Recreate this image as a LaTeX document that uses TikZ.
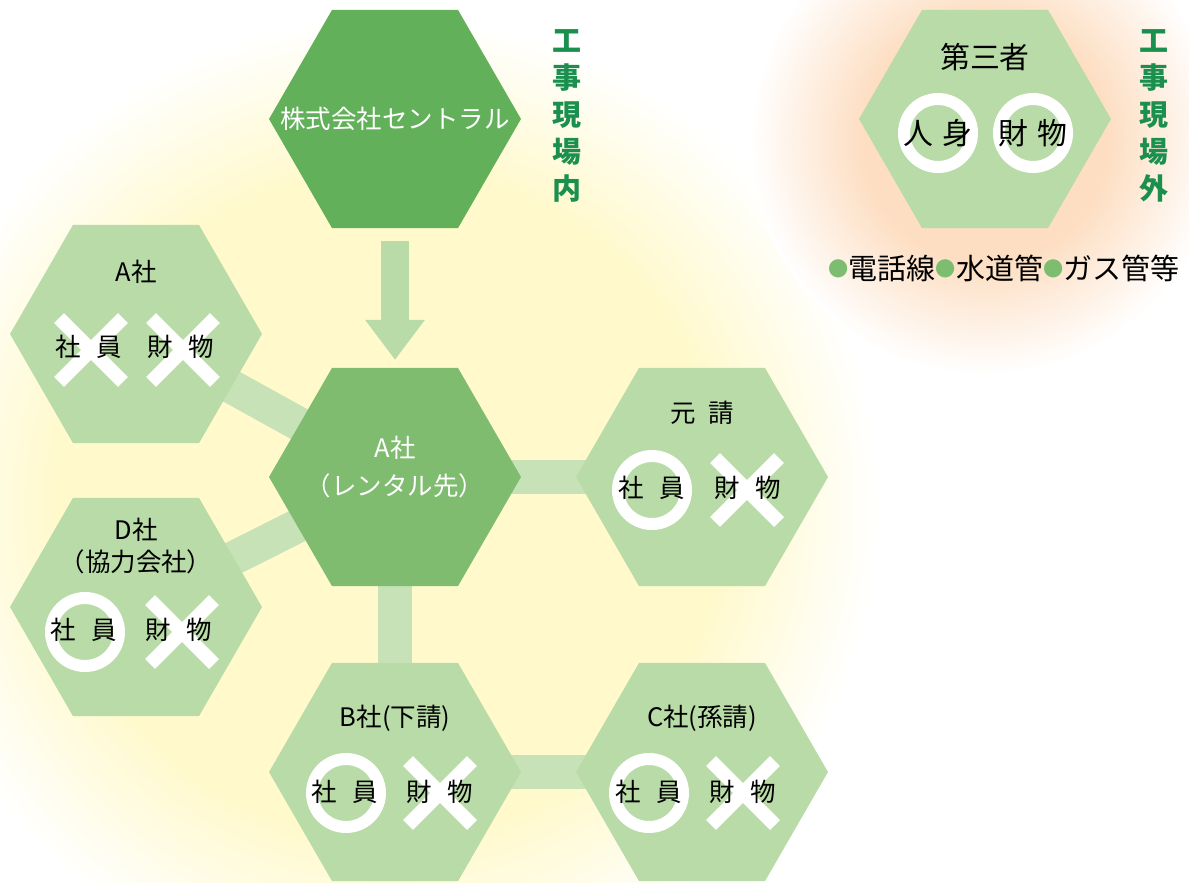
\documentclass[tikz,border=0pt]{standalone}
\usepackage{fontspec}
\setmainfont{Noto Sans CJK JP}
\usetikzlibrary{shapes.geometric,shapes.misc,arrows.meta}

\definecolor{topgreen}{HTML}{62B15A}
\definecolor{rentgreen}{HTML}{7FBC6F}
\definecolor{hexgreen}{HTML}{B8DBA7}
\definecolor{bandgreen}{HTML}{C8E2B8}
\definecolor{textgreen}{HTML}{1A8F4E}
\definecolor{dotgreen}{HTML}{7DBD6F}
\definecolor{glowyellow}{HTML}{FFF9CC}
\definecolor{gloworange}{HTML}{FDDEC2}

\pgfdeclarelayer{glow}
\pgfdeclarelayer{background}
\pgfsetlayers{glow,background,main}

\pgfdeclareradialshading{yellowglow}{\pgfpoint{0bp}{0bp}}{color(0bp)=(glowyellow); color(17bp)=(glowyellow); color(25bp)=(white); color(50bp)=(white)}
\pgfdeclareradialshading{orangeglow}{\pgfpoint{0bp}{0bp}}{color(0bp)=(gloworange); color(13bp)=(gloworange); color(25bp)=(white); color(50bp)=(white)}

\begin{document}
\begin{tikzpicture}[x=0.02cm,y=-0.02cm,
  hexa/.style={regular polygon,regular polygon sides=6,minimum size=5.04cm,inner sep=0pt,outer sep=0pt,fill=hexgreen},
  band/.style={draw=bandgreen,line width=0.68cm},
  bigarrow/.style={draw=hexgreen,line width=0.56cm,-{Triangle[length=0.8cm,width=1.14cm]}},
  ring/.style={circle,draw=white,line width=0.24cm,minimum size=1.36cm,inner sep=0pt},
  nogood/.style={cross out,draw=white,line width=0.28cm,minimum size=1.28cm,inner sep=0pt,outer sep=0pt},
  lbl/.style={font=\fontsize{14.5}{17}\selectfont,inner sep=0pt},
  biglbl/.style={font=\fontsize{17}{20}\selectfont,inner sep=0pt},
  wlbl/.style={font=\fontsize{14.5}{22}\selectfont,text=white,align=center,inner sep=0pt},
  vtext/.style={font=\bfseries\fontsize{16.5}{21}\selectfont,text=textgreen,align=center,inner sep=0pt}]
\useasboundingbox (0,0) rectangle (1189,882);

% glows
\begin{pgfonlayer}{glow}
\begin{scope}
\clip (0,0) rectangle (1189,882);
\shade[shading=yellowglow] (390,505) circle (490);
\shade[shading=orangeglow] (985,140) circle (235);
\end{scope}
\end{pgfonlayer}

% hexagons
\node[hexa,fill=topgreen] (hTop) at (395,119) {};
\node[hexa,fill=rentgreen] (hRent) at (395,477) {};
\node[hexa] (hA) at (136,334) {};
\node[hexa] (hD) at (136,607) {};
\node[hexa] (hMoto) at (702,477) {};
\node[hexa] (hB) at (395,772) {};
\node[hexa] (hC) at (702,772) {};
\node[hexa] (hThird) at (985,119) {};

% bands
\begin{pgfonlayer}{background}
\draw[band] (hA.center) -- (hRent.center);
\draw[band] (hD.center) -- (hRent.center);
\draw[band] (hRent.center) -- (hMoto.center);
\draw[band] (hRent.center) -- (hB.center);
\draw[band] (hB.center) -- (hC.center);
\end{pgfonlayer}
\draw[bigarrow,shorten <=0.26cm,shorten >=0.16cm] (hTop) -- (hRent);

% titles
\node[wlbl] (tTop) at (395,119) {株式会社セントラル};
\node[wlbl] (tRent) at (395,467) {A社\\（レンタル先）};
\node[lbl] (tA) at (136,272) {A社};
\node[lbl,align=center,font=\fontsize{14.5}{18}\selectfont] (tD) at (136,546) {D社\\（協力会社）};
\node[lbl] (tMoto) at (702,413) {元\hspace{0.5em}請};
\node[lbl] (tB) at (395,718) {B社(下請)};
\node[lbl] (tC) at (702,718) {C社(孫請)};
\node[biglbl] (tThird) at (985,57) {第三者};

% marks
\node[nogood] (mA1) at (91,350) {};
\node[nogood] (mA2) at (183,350) {};
\node[ring] (mD1) at (85,632) {};
\node[nogood] (mD2) at (182,632) {};
\node[ring] (mMoto1) at (652,490) {};
\node[nogood] (mMoto2) at (747,490) {};
\node[ring] (mB1) at (346,793) {};
\node[nogood] (mB2) at (440,793) {};
\node[ring] (mC1) at (649,793) {};
\node[nogood] (mC2) at (743,793) {};
\node[ring] (mT1) at (938,133) {};
\node[ring] (mT2) at (1033,133) {};

% texts on marks
\node[lbl] at (89,347) {社\hspace{0.6em}員};
\node[lbl] at (181,347) {財\hspace{0.6em}物};
\node[lbl] at (84,630) {社\hspace{0.6em}員};
\node[lbl] at (179,630) {財\hspace{0.6em}物};
\node[lbl] at (652,488) {社\hspace{0.6em}員};
\node[lbl] at (748,488) {財\hspace{0.6em}物};
\node[lbl] at (345,792) {社\hspace{0.6em}員};
\node[lbl] at (440,792) {財\hspace{0.6em}物};
\node[lbl] at (649,792) {社\hspace{0.6em}員};
\node[lbl] at (743,792) {財\hspace{0.6em}物};
\node[biglbl] at (938,133) {人\hspace{0.3em}身};
\node[biglbl] at (1033,133) {財\hspace{0.3em}物};

% side texts
\node[vtext] (vIn) at (567,116) {工\\事\\現\\場\\内};
\node[vtext] (vOut) at (1154,116) {工\\事\\現\\場\\外};
\node[lbl,font=\fontsize{16.5}{20}\selectfont] (legend) at (1004,268) {\raisebox{1.6pt}{\fontsize{11.5}{12}\selectfont\color{dotgreen}●}電話線\raisebox{1.6pt}{\fontsize{11.5}{12}\selectfont\color{dotgreen}●}水道管\raisebox{1.6pt}{\fontsize{11.5}{12}\selectfont\color{dotgreen}●}ガス管等};
\end{tikzpicture}
\end{document}
